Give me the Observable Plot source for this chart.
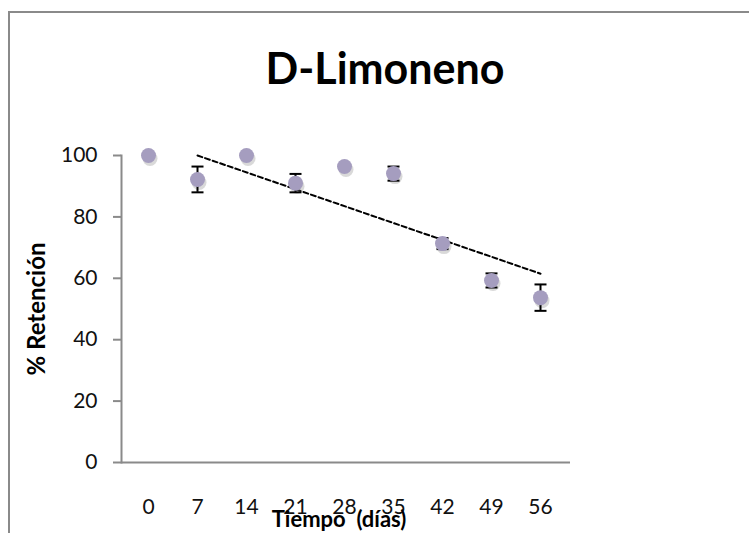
<!DOCTYPE html>
<html>
<head>
<meta charset="utf-8">
<script src="https://cdn.jsdelivr.net/npm/d3@7"></script>
<script src="https://cdn.jsdelivr.net/npm/@observablehq/plot@0.6"></script>
<style>
  html, body { margin: 0; padding: 0; background: #fff; }
  #wrap { position: relative; width: 749px; height: 533px; overflow: hidden; font-family: Lato, "Open Sans", sans-serif; }
  #border { position: absolute; left: 8px; top: 11px; width: 900px; height: 700px; border: 2px solid #8a8a8a; box-sizing: border-box; }
  #chart { position: absolute; left: 0; top: 0; }
</style>
</head>
<body>
<div id="wrap"><div id="border"></div><div id="chart"></div></div>
<script>
const dias = ["0", "7", "14", "21", "28", "35", "42", "49", "56"];
const retencion = [100, 92.2, 100, 91, 96.4, 94.1, 71.3, 59.3, 53.7];
const errorBar = [0, 4.2, 0, 3, 0.8, 2.3, 1.8, 2.3, 4.3];
const trendDias = ["7", "56"];
const trendValues = [100, 61.5];
const yTicks = [0, 20, 40, 60, 80, 100];
const titleText = "D-Limoneno";
const xTitle = "Tiempo\u00a0 (días)";
const yTitle = "% Retención";

const data = dias.map((d, i) => ({dia: d, v: retencion[i], lo: retencion[i] - errorBar[i], hi: retencion[i] + errorBar[i], err: errorBar[i]}));
const trend = trendDias.map((d, i) => ({dia: d, v: trendValues[i]}));
const withErr = data.filter(d => d.err > 0);

const hbar = {draw(ctx, size) { const r = Math.sqrt(size / Math.PI); ctx.moveTo(-r, 0); ctx.lineTo(r, 0); }};

const plot = Plot.plot({
  width: 749,
  height: 533,
  marginLeft: 121,
  marginRight: 183,
  marginTop: 155,
  marginBottom: 71,
  style: {fontFamily: "Lato, 'Open Sans', sans-serif", background: "transparent", color: "#111"},
  x: {type: "point", domain: dias, padding: 0.5, label: null},
  y: {domain: [0, 100], label: null},
  marks: [
    Plot.axisY({ticks: yTicks, tickSize: 8, tickPadding: 16, stroke: "#8a8a8a", strokeWidth: 2, fontSize: 21, fill: "#111", label: null}),
    Plot.frame({anchor: "left", stroke: "#8a8a8a", strokeWidth: 2}),
    Plot.axisX({tickSize: 0, tickPadding: 37, fontSize: 21, fill: "#111", label: null}),
    Plot.ruleY([0], {stroke: "#8a8a8a", strokeWidth: 2, insetRight: -4}),
    Plot.line(trend, {x: "dia", y: "v", stroke: "#000", strokeWidth: 2, strokeDasharray: "5,3"}),
    Plot.dot(data, {x: "dia", y: "v", r: 7.5, fill: "#777", fillOpacity: 0.28, stroke: "none", dx: 1.5, dy: 3}),
    Plot.ruleX(withErr, {x: "dia", y1: "lo", y2: "hi", stroke: "#000", strokeWidth: 2}),
    Plot.dot(withErr, {x: "dia", y: "lo", symbol: hbar, r: 6, stroke: "#000", strokeWidth: 2}),
    Plot.dot(withErr, {x: "dia", y: "hi", symbol: hbar, r: 6, stroke: "#000", strokeWidth: 2}),
    Plot.dot(data, {x: "dia", y: "v", r: 7.5, fill: "#a59dbf", stroke: "none"}),
    Plot.text([titleText], {frameAnchor: "top", lineAnchor: "bottom", dx: 41, dy: -72, fontSize: 43, fontWeight: "bold", fill: "#000"}),
    Plot.text([yTitle], {frameAnchor: "left", textAnchor: "middle", rotate: -90, dx: -84, dy: 0, fontSize: 24, fontWeight: "bold", fill: "#000"}),
    Plot.text([xTitle], {frameAnchor: "bottom", lineAnchor: "bottom", dx: -5, dy: 64, fontSize: 22, fontWeight: "bold", fill: "#000"})
  ]
});
document.getElementById("chart").appendChild(plot);
</script>
</body>
</html>
